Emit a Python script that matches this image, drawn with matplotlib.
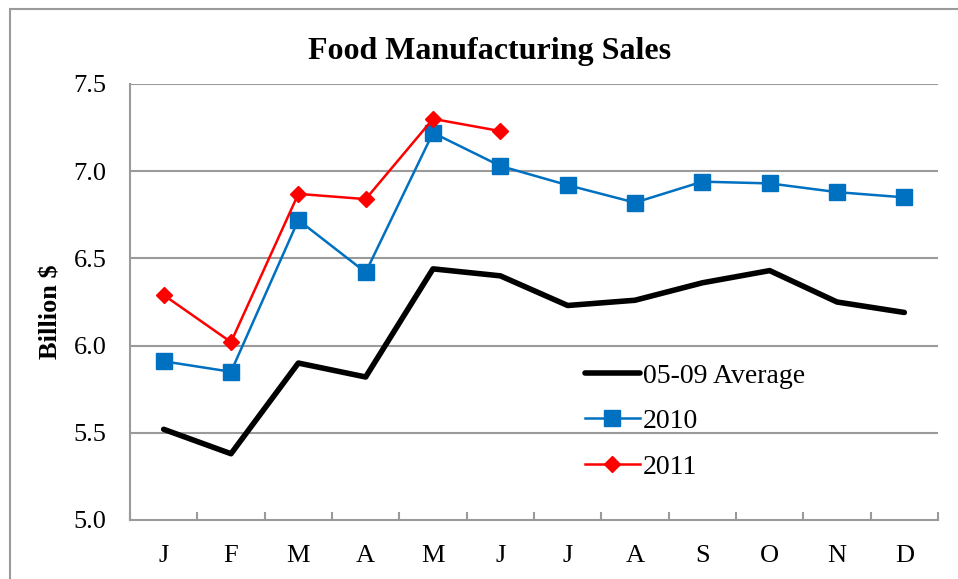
import matplotlib.pyplot as plt
import matplotlib.patches as mpatches

months = ["J", "F", "M", "A", "M", "J", "J", "A", "S", "O", "N", "D"]
avg_05_09 = [5.52, 5.38, 5.90, 5.82, 6.44, 6.40, 6.23, 6.26, 6.36, 6.43, 6.25, 6.19]
sales_2010 = [5.91, 5.85, 6.72, 6.42, 7.22, 7.03, 6.92, 6.82, 6.94, 6.93, 6.88, 6.85]
sales_2011 = [6.29, 6.02, 6.87, 6.84, 7.30, 7.23]
yticks = [5.0, 5.5, 6.0, 6.5, 7.0, 7.5]

plt.rcParams["font.family"] = ["Liberation Serif", "DejaVu Serif"]
grid_grey = "#9a9a9a"

fig = plt.figure(figsize=(9.58, 5.79), dpi=100)
# outer chart frame (only left and top edges fall inside the image)
fig.patches.append(mpatches.Rectangle(
    (10 / 958, -0.1), 1.2, 1 - 9 / 579 + 0.1, transform=fig.transFigure,
    fill=False, edgecolor=grid_grey, linewidth=1.5))

ax = fig.add_axes([130 / 958, 1 - 520 / 579, 808 / 958, 436 / 579])
x = list(range(len(months)))

ax.plot(x, avg_05_09, color="black", linewidth=4, label="05-09 Average",
        solid_capstyle="round", zorder=3)
ax.plot(x, sales_2010, color="#0070C0", linewidth=1.8, marker="s",
        markersize=11, label="2010", zorder=4)
ax.plot(x[:len(sales_2011)], sales_2011, color="#FF0000", linewidth=1.8,
        marker="D", markersize=8, label="2011", zorder=5)

ax.set_xlim(-0.5, len(months) - 0.5)
ax.set_ylim(5.0, 7.5)
ax.set_yticks(yticks)
ax.set_yticklabels([f"{v:.1f}" for v in yticks], fontsize=19)
ax.set_xticks(x)
ax.set_xticklabels(months, fontsize=19)
ax.set_xticks([i - 0.5 for i in range(len(months) + 1)], minor=True)
ax.tick_params(axis="x", which="major", length=0, pad=18)
ax.tick_params(axis="x", which="minor", direction="in", length=6,
               width=1.5, color=grid_grey)
ax.tick_params(axis="y", length=0, pad=17)

for v in yticks[1:]:
    ax.axhline(v, color=grid_grey, linewidth=1.5, zorder=1)
for side in ["top", "right"]:
    ax.spines[side].set_visible(False)
for side in ["left", "bottom"]:
    ax.spines[side].set_color(grid_grey)
    ax.spines[side].set_linewidth(1.5)

ax.set_ylabel("Billion $", fontsize=19, fontweight="bold")
ax.yaxis.set_label_coords(-0.083, 0.477)
fig.text(490 / 958, 1 - 51 / 579, "Food Manufacturing Sales", fontsize=23,
         fontweight="bold", ha="center", va="center")

leg = ax.legend(loc="upper left", bbox_to_anchor=(0.549, 0.385), frameon=False,
                fontsize=20, handlelength=2.0, handletextpad=0.1,
                labelspacing=0.72, borderaxespad=0)

fig.savefig("out.png", dpi=100)
